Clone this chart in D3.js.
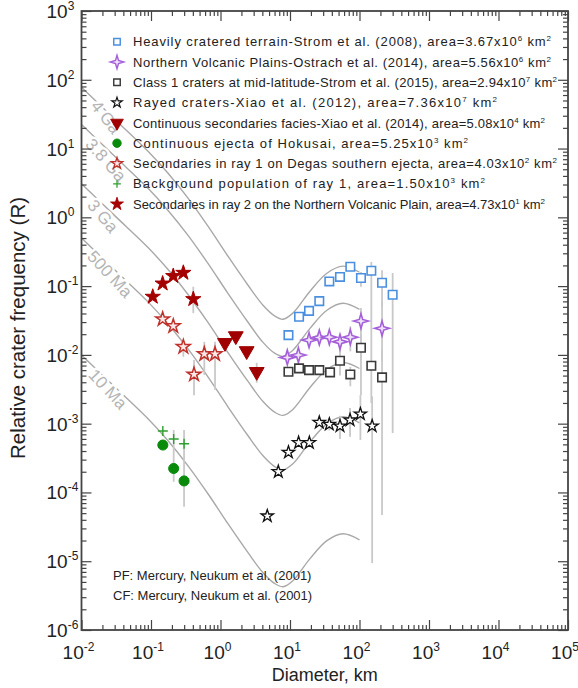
<!DOCTYPE html>
<html lang="en">
<head>
<meta charset="UTF-8">
<title>Relative crater frequency, Mercury</title>
<script src="https://d3js.org/d3.v7.min.js"></script>
<style>
body { margin: 0; background: #fff; }
svg text { font-family: "Liberation Sans", Arial, Helvetica, sans-serif; }
</style>
</head>
<body>
<div id="my_dataviz"></div>
<script>
// ---- data ----

// model isochrons (PF/CF: Neukum et al. 2001), diameters in km
const isoDiam  = [0.01, 0.0303, 0.0906, 0.176, 0.341, 0.660, 1.28, 2.49, 4.09, 6.08, 7.93, 11.0, 19.4, 34.0, 57.9, 100];
const iso4Ga   = [77.6, 26.5, 9.14, 4.38, 1.90, 0.743, 0.272, 0.103, 0.0528, 0.0366, 0.0330, 0.0405, 0.0843, 0.154, 0.195, 0.159];
const iso38Ga  = [22.4, 7.64, 2.64, 1.26, 0.547, 0.214, 0.0785, 0.0298, 0.0152, 0.0105, 0.00953, 0.0117, 0.0243, 0.0445, 0.0562, 0.0459];
const iso3Ga   = [3.09, 1.05, 0.364, 0.174, 0.0755, 0.0296, 0.0108, 0.00411, 0.00210, 0.00146, 0.00132, 0.00161, 0.00336, 0.00614, 0.00776, 0.00634];
const iso500Ma = [0.501, 0.171, 0.0590, 0.0282, 0.0122, 0.00480, 0.00176, 6.67e-4, 3.41e-4, 2.36e-4, 2.13e-4, 2.61e-4, 5.45e-4, 9.95e-4, 1.26e-3, 1.03e-3];
const iso10Ma  = [0.0100, 3.41e-3, 1.18e-3, 5.64e-4, 2.44e-4, 9.57e-5, 3.51e-5, 1.33e-5, 6.81e-6, 4.71e-6, 4.26e-6, 5.21e-6, 1.09e-5, 1.99e-5, 2.51e-5, 2.05e-5];
const isoNames = ["4 Ga", "3.8 Ga", "3 Ga", "500 Ma", "10 Ma"];

// Heavily cratered terrain - Strom et al. (2008)
const hctD = [9.5, 13.5, 18.8, 26.4, 36.8, 52.4, 73.8, 105, 148, 211, 300];
const hctR = [0.0194, 0.0358, 0.0437, 0.0605, 0.117, 0.136, 0.191, 0.131, 0.167, 0.112, 0.0748];
const hctErr = [null, null, null, null, null, null, null, [0.098, 0.161], [0.03, 0.225], [0.05, 0.17], [7.3e-4, 0.155]];

// Northern Volcanic Plains - Ostrach et al. (2014)
const nvpD = [9.15, 13.2, 18.8, 26.4, 36.8, 52.4, 73.8, 105, 211];
const nvpR = [0.00918, 0.00993, 0.0164, 0.0179, 0.0181, 0.0155, 0.0181, 0.031, 0.0243];
const nvpErr = [null, null, null, null, null, [0.0105, 0.0185], [0.0113, 0.026], [0.0084, 0.048], [0.008, 0.06]];

// Class 1 craters at mid-latitude - Strom et al. (2015)
const c1D = [9.5, 13.5, 18.8, 26.4, 37.7, 52.4, 73.8, 105, 148, 211];
const c1R = [0.00568, 0.00636, 0.00601, 0.00601, 0.00557, 0.0082, 0.0052, 0.0127, 0.00695, 0.00471];
const c1Err = [null, null, null, null, null, [0.005, 0.0115], [0.0035, 0.0067], [0.0026, 0.02], [0.002, 0.03], [4.7e-5, 0.012]];

// Rayed craters - Xiao et al. (2012)
const rayD = [4.71, 6.79, 9.5, 13.3, 19.0, 26.4, 36.8, 52.4, 73.1, 103, 152];
const rayR = [4.54e-5, 2.0e-4, 3.83e-4, 5.28e-4, 5.28e-4, 1.04e-3, 9.77e-4, 9.23e-4, 1.13e-3, 1.38e-3, 9.23e-4];
const rayErr = [null, null, null, null, null, null, [8e-4, 1.2e-3], [6e-4, 1.3e-3], [6.46e-4, 1.69e-3], [5.8e-4, 2.6e-3], [9.4e-6, 2.5e-3]];

// Continuous secondaries facies - Xiao et al. (2014)
const csfD = [1.16, 1.66, 2.38, 3.32];
const csfR = [0.0150, 0.0188, 0.0114, 0.00568];
const csfErr = [null, null, null, [3.93e-3, 7.67e-3]];

// Continuous ejecta of Hokusai
const hokD = [0.148, 0.212, 0.299];
const hokR = [4.89e-4, 2.23e-4, 1.47e-4];
const hokErr = [null, null, [6.2e-5, 8.07e-4]];

// Secondaries in ray 1 on Degas southern ejecta
const ray1D = [0.147, 0.209, 0.292, 0.416, 0.585, 0.834];
const ray1R = [0.0331, 0.0262, 0.0131, 0.0052, 0.0103, 0.0103];
const ray1Err = [null, null, [0.0094, 0.0149], [0.0026, 0.0084], [0.0051, 0.0155], [0.0031, 0.0155]];

// Background population of ray 1
const bgD = [0.148, 0.212, 0.299];
const bgR = [7.81e-4, 5.97e-4, 5.1e-4];
const bgErr = [null, [1.43e-4, 8.07e-4], null];

// Secondaries in ray 2 on the Northern Volcanic Plain
const ray2D = [0.106, 0.147, 0.209, 0.292, 0.406];
const ray2R = [0.070, 0.109, 0.140, 0.156, 0.0647];
const ray2Err = [null, null, null, null, [0.0405, 0.098]];

// legend text: [text, area exponent]
const legendText = [
  ["Heavily cratered terrain-Strom et al. (2008), area=3.67x10", "6"],
  ["Northern Volcanic Plains-Ostrach et al. (2014), area=5.56x10", "6"],
  ["Class 1 craters at mid-latitude-Strom et al. (2015), area=2.94x10", "7"],
  ["Rayed craters-Xiao et al. (2012), area=7.36x10", "7"],
  ["Continuous secondaries facies-Xiao et al. (2014), area=5.08x10", "4"],
  ["Continuous ejecta of Hokusai, area=5.25x10", "3"],
  ["Secondaries in ray 1 on Degas southern ejecta, area=4.03x10", "2"],
  ["Background population of ray 1, area=1.50x10", "3"],
  ["Secondaries in ray 2 on the Northern Volcanic Plain, area=4.73x10", "1"]
];
const legendEnd = [551, 551, 557, 497, 545, 468, 557, 485, 545];
const noteText = ["PF: Mercury, Neukum et al. (2001)", "CF: Mercury, Neukum et al. (2001)"];

const xExp = [-2, -1, 0, 1, 2, 3, 4, 5];
const yExp = [-6, -5, -4, -3, -2, -1, 0, 1, 2, 3];

// ---- layout ----
var W = 578, H = 688;
var margin = {top: 11, right: 10, bottom: 58, left: 81.5},
    width = W - margin.left - margin.right,
    height = H - margin.top - margin.bottom;

var svg = d3.select("#my_dataviz")
  .append("svg")
    .attr("width", W)
    .attr("height", H);

var g = svg.append("g")
    .attr("transform", "translate(" + margin.left + "," + margin.top + ")");

var x = d3.scaleLog().domain([1e-2, 1e5]).range([0, width]);
var y = d3.scaleLog().domain([1e-6, 1e3]).range([height, 0]);

// tick values: majors at decades, minors at 2..9
function logTicks(e0, e1) {
  var major = [], minor = [];
  for (var e = e0; e <= e1; e++) {
    major.push(Math.pow(10, e));
    if (e < e1) for (var k = 2; k <= 9; k++) minor.push(k * Math.pow(10, e));
  }
  return {major: major, minor: minor};
}
var xt = logTicks(-2, 5), yt = logTicks(-6, 3);

// isochrons
var curveColor = "#a9a9a9";
var line = d3.line()
  .x(function(d) { return x(d[0]); })
  .y(function(d) { return y(d[1]); })
  .curve(d3.curveCatmullRom.alpha(0.5));

var isoSets = [iso4Ga, iso38Ga, iso3Ga, iso500Ma, iso10Ma];
isoSets.forEach(function(vals) {
  g.append("path")
    .datum(isoDiam.map(function(d, i) { return [d, vals[i]]; }))
    .attr("fill", "none")
    .attr("stroke", curveColor)
    .attr("stroke-width", 1.4)
    .attr("d", line);
});

// isochron labels, set along the curve near the left edge
var isoLabelPos = [[106, 117, 52], [106, 160, 48], [103, 216, 50], [110, 274, 47], [108, 389, 47]];
isoNames.forEach(function(t, i) {
  var p = isoLabelPos[i];
  g.append("text")
    .attr("transform", "translate(" + (p[0] - margin.left) + "," + (p[1] - margin.top) + ") rotate(" + p[2] + ")")
    .attr("text-anchor", "middle")
    .attr("dy", "0.35em")
    .style("font-size", "17px")
    .style("fill", "#b5b5b5")
    .style("stroke", "#fff")
    .style("stroke-width", 5)
    .style("paint-order", "stroke")
    .text(t);
});

// custom marker shapes
var star4 = {
  draw: function(ctx, size) {
    var r = Math.sqrt(size) * 0.95, ri = r * 0.32;
    for (var i = 0; i < 8; i++) {
      var a = i * Math.PI / 4 - Math.PI / 2, rr = i % 2 ? ri : r;
      if (i === 0) ctx.moveTo(rr * Math.cos(a), rr * Math.sin(a));
      else ctx.lineTo(rr * Math.cos(a), rr * Math.sin(a));
    }
    ctx.closePath();
  }
};
var plus = {
  draw: function(ctx, size) {
    var r = Math.sqrt(size) / 2;
    ctx.moveTo(-r, 0); ctx.lineTo(r, 0);
    ctx.moveTo(0, -r); ctx.lineTo(0, r);
  }
};

var series = [
  {D: hctD, R: hctR, err: hctErr, type: d3.symbolSquare, size: 72, fill: "#fff", stroke: "#4a8fe0", sw: 1.6, rot: 0},
  {D: nvpD, R: nvpR, err: nvpErr, type: star4, size: 62, fill: "#efe2f8", stroke: "#a45fd9", sw: 1.6, rot: 0},
  {D: c1D, R: c1R, err: c1Err, type: d3.symbolSquare, size: 72, fill: "#fff", stroke: "#3a3a3a", sw: 1.6, rot: 0},
  {D: rayD, R: rayR, err: rayErr, type: d3.symbolStar, size: 48, fill: "#fff", stroke: "#111", sw: 1.3, rot: 0},
  {D: csfD, R: csfR, err: csfErr, type: d3.symbolTriangle, size: 95, fill: "#a00000", stroke: "#a00000", sw: 1, rot: 180},
  {D: hokD, R: hokR, err: hokErr, type: d3.symbolCircle, size: 80, fill: "#0a8a0a", stroke: "#0a8a0a", sw: 1, rot: 0},
  {D: ray1D, R: ray1R, err: ray1Err, type: d3.symbolStar, size: 60, fill: "#fbe8e8", stroke: "#c0302a", sw: 1.5, rot: 0},
  {D: bgD, R: bgR, err: bgErr, type: plus, size: 100, fill: "none", stroke: "#2ca02c", sw: 1.4, rot: 0},
  {D: ray2D, R: ray2R, err: ray2Err, type: d3.symbolStar, size: 72, fill: "#a50000", stroke: "#a50000", sw: 1, rot: 0}
];

// error bars first, so the markers sit on top
series.forEach(function(s) {
  g.selectAll(null)
    .data(s.D.map(function(d, i) { return {d: d, e: s.err[i]}; }).filter(function(p) { return p.e; }))
    .enter().append("line")
      .attr("x1", function(p) { return x(p.d); })
      .attr("x2", function(p) { return x(p.d); })
      .attr("y1", function(p) { return y(p.e[0]); })
      .attr("y2", function(p) { return y(p.e[1]); })
      .attr("stroke", "#c9c9c9")
      .attr("stroke-width", 1.8);
});

series.forEach(function(s) {
  var sym = d3.symbol().type(s.type).size(s.size);
  g.selectAll(null)
    .data(s.D.map(function(d, i) { return [d, s.R[i]]; }))
    .enter().append("path")
      .attr("d", sym)
      .attr("transform", function(d) { return "translate(" + x(d[0]) + "," + y(d[1]) + ") rotate(" + s.rot + ")"; })
      .attr("fill", s.fill)
      .attr("stroke", s.stroke)
      .attr("stroke-width", s.sw);
});

// legend
var legX = 117, legTextX = 133, legY0 = 41.7, legDy = 20.3;
var legSizes = [42, 50, 42, 34, 70, 56, 40, 60, 52];
series.forEach(function(s, i) {
  var cy = legY0 + i * legDy;
  svg.append("path")
    .attr("d", d3.symbol().type(s.type).size(legSizes[i]))
    .attr("transform", "translate(" + legX + "," + cy + ") rotate(" + s.rot + ")")
    .attr("fill", s.fill)
    .attr("stroke", s.stroke)
    .attr("stroke-width", s.sw * 0.9);
  var t = svg.append("text")
    .attr("x", legTextX)
    .attr("y", cy + 4.6)
    .attr("textLength", legendEnd[i] - legTextX)
    .attr("lengthAdjust", "spacing")
    .style("font-size", "13px")
    .style("fill", "#222");
  t.append("tspan").text(legendText[i][0]);
  t.append("tspan").attr("dy", -5).style("font-size", "8px").text(legendText[i][1]);
  t.append("tspan").attr("dy", 5).text(" km");
  t.append("tspan").attr("dy", -5).style("font-size", "8px").text("2");
});

noteText.forEach(function(t, i) {
  svg.append("text")
    .attr("x", 113)
    .attr("y", 579.5 + i * 20)
    .style("font-size", "13px")
    .style("fill", "#222")
    .text(t);
});

// axes: inward ticks on all four sides, frame drawn as a rect
var axisColor = "#444";
function addAxis(axisFn, scale, vals, len, transform) {
  var a = g.append("g")
    .attr("transform", transform)
    .call(axisFn(scale).tickValues(vals).tickSizeInner(-len).tickSizeOuter(0).tickFormat(""));
  a.select(".domain").remove();
  a.selectAll("line").attr("stroke", axisColor).attr("stroke-width", 1.2);
}
addAxis(d3.axisBottom, x, xt.major, 10, "translate(0," + height + ")");
addAxis(d3.axisBottom, x, xt.minor, 5, "translate(0," + height + ")");
addAxis(d3.axisTop, x, xt.major, 10, "translate(0,0)");
addAxis(d3.axisTop, x, xt.minor, 5, "translate(0,0)");
addAxis(d3.axisLeft, y, yt.major, 10, "translate(0,0)");
addAxis(d3.axisLeft, y, yt.minor, 5, "translate(0,0)");
addAxis(d3.axisRight, y, yt.major, 10, "translate(" + width + ",0)");
addAxis(d3.axisRight, y, yt.minor, 5, "translate(" + width + ",0)");

g.append("rect")
  .attr("width", width)
  .attr("height", height)
  .attr("fill", "none")
  .attr("stroke", axisColor)
  .attr("stroke-width", 1.8);

// tick labels 10^n
xExp.forEach(function(e) {
  var t = g.append("text")
    .attr("x", x(Math.pow(10, e)) - 3)
    .attr("y", height + 29)
    .attr("text-anchor", "middle")
    .style("font-size", "19px")
    .style("fill", "#222");
  t.append("tspan").text("10");
  t.append("tspan").attr("dy", -8).style("font-size", "12px").text(e);
});
yExp.forEach(function(e) {
  var t = g.append("text")
    .attr("x", -35)
    .attr("y", y(Math.pow(10, e)) + 7)
    .style("font-size", "19px")
    .style("fill", "#222");
  t.append("tspan").text("10");
  t.append("tspan").attr("dy", -8).style("font-size", "12px").text(e);
});

// axis titles
svg.append("text")
  .attr("x", margin.left + width / 2)
  .attr("y", 681)
  .attr("text-anchor", "middle")
  .style("font-size", "18px")
  .style("fill", "#222")
  .text("Diameter, km");

svg.append("text")
  .attr("transform", "rotate(-90)")
  .attr("x", -328)
  .attr("y", 25)
  .attr("text-anchor", "middle")
  .style("font-size", "20.5px")
  .style("fill", "#222")
  .text("Relative crater frequency (R)");
</script>
</body>
</html>
